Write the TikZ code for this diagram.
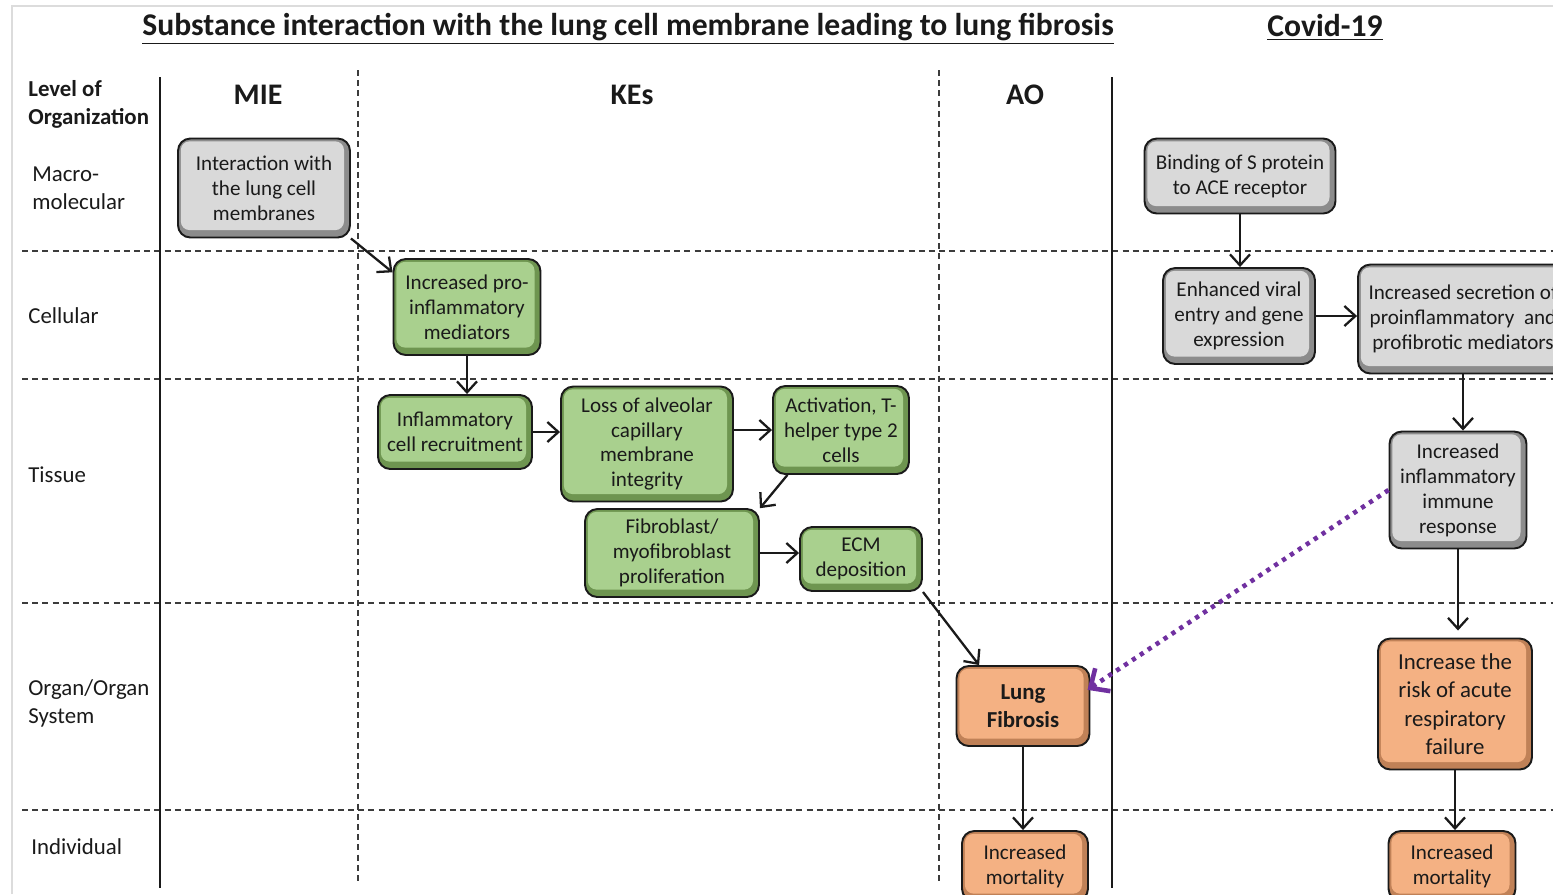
\documentclass[tikz,border=0pt]{standalone}
\usepackage{fontspec}
\setmainfont{Carlito}
\usetikzlibrary{arrows.meta,calc}
\definecolor{edgegray}{HTML}{8C8C8C}
\definecolor{fillgray}{HTML}{D9D9D9}
\definecolor{edgegreen}{HTML}{6E9550}
\definecolor{fillgreen}{HTML}{A9D08E}
\definecolor{edgeorange}{HTML}{C08157}
\definecolor{fillorange}{HTML}{F4B183}
\definecolor{framegray}{HTML}{DCDCDC}
\definecolor{linkpurple}{HTML}{7030A0}
\definecolor{ink}{HTML}{1A1A1A}
\tikzset{
  kebox/.style 2 args={rounded corners=7pt,draw=ink,line width=1.1pt,fill=#1,
    align=center,inner sep=2pt,text=ink,font=\fontsize{12}{14.2}\selectfont,
    path picture={\fill[#2,rounded corners=5pt]
      ([shift={(1.6pt,-1.6pt)}]path picture bounding box.north west) rectangle
      ([shift={(-3.4pt,4.2pt)}]path picture bounding box.south east);}},
  graybox/.style  ={kebox={edgegray}{fillgray}},
  greenbox/.style ={kebox={edgegreen}{fillgreen}},
  orangebox/.style={kebox={edgeorange}{fillorange}},
  level/.style ={anchor=west,align=left,inner sep=0pt,text=ink,font=\fontsize{13}{15.9}\selectfont},
  head/.style  ={text=ink,font=\fontsize{17}{20}\selectfont\bfseries},
  title/.style ={text=ink,font=\fontsize{18}{21}\selectfont\bfseries},
  rowline/.style={dash pattern=on 3.4pt off 2.4pt,line width=0.8pt,draw=ink!85},
  colline/.style={line width=1.4pt,draw=ink},
  flow/.style  ={-{Straight Barb[length=2.2mm,width=4mm]},line width=1.3pt,draw=ink},
  link/.style  ={-{Straight Barb[length=3mm,width=5.5mm]},line width=2.6pt,
                 draw=linkpurple,dash pattern=on 2.4pt off 3pt}
}

\begin{document}
\begin{tikzpicture}[x=0.02cm,y=-0.02cm]
  \useasboundingbox[fill=white] (0,0) rectangle (1553,894);
  \draw[framegray,line width=1.2pt] (12,894) -- (12,6) -- (1553,6);

  % titles and column heads
  \node[title] (ttl) at (628,29) {\underline{Substance interaction with the lung cell membrane leading to lung fibrosis}};
  \node[title] (cov) at (1325,27) {\underline{Covid-19}};
  \node[level,font=\fontsize{13}{15.9}\selectfont\bfseries] (lvl) at (28,104) {Level of\\Organization};
  \node[head] (hmie) at (258,95) {MIE};
  \node[head] (hkes) at (632,95) {KEs};
  \node[head] (hao)  at (1025,95) {AO};

  % grid
  \foreach \yy in {251,379,603,810}
    \draw[rowline] (22,\yy) -- (1553,\yy);
  \foreach \xx in {358,939}
    \draw[rowline] (\xx,70) -- (\xx,885);
  \foreach \xx in {160,1112}
    \draw[colline] (\xx,77) -- (\xx,888);

  % levels
  \node[level] (lmac) at (32,188) {Macro-\\molecular};
  \node[level] (lcel) at (28,316) {Cellular};
  \node[level] (ltis) at (28,475) {Tissue};
  \node[level] (lorg) at (28,703) {Organ/Organ\\System};
  \node[level] (lind) at (31,847) {Individual};

  % substance pathway
  \node[graybox,minimum width=3.44cm,minimum height=1.98cm] (mie) at (264,188) {Interaction with\\the lung cell\\membranes};
  \node[greenbox,minimum width=2.94cm,minimum height=1.92cm] (pro) at (467,307) {Increased pro-\\inflammatory\\mediators};
  \node[greenbox,minimum width=3.08cm,minimum height=1.48cm] (rec) at (455,432) {Inflammatory\\cell recruitment};
  \node[greenbox,minimum width=3.44cm,minimum height=2.30cm] (loss) at (647,444) {Loss of alveolar\\capillary\\membrane\\integrity};
  \node[greenbox,minimum width=2.72cm,minimum height=1.76cm] (act) at (841,430) {Activation, T-\\helper type 2\\cells};
  \node[greenbox,minimum width=3.48cm,minimum height=1.76cm] (fib) at (672,553) {Fibroblast/\\myofibroblast\\proliferation};
  \node[greenbox,minimum width=2.44cm,minimum height=1.28cm] (ecm) at (861,559) {ECM\\deposition};
  \node[orangebox,minimum width=2.66cm,minimum height=1.60cm,font=\fontsize{13}{15.9}\selectfont\bfseries] (lf) at (1023,706) {Lung\\Fibrosis};
  \node[orangebox,minimum width=2.52cm,minimum height=1.40cm] (mor) at (1025,866) {Increased\\mortality};

  % covid-19 pathway
  \node[graybox,minimum width=3.82cm,minimum height=1.50cm] (bind) at (1240,176) {Binding of S protein\\to ACE receptor};
  \node[graybox,minimum width=3.04cm,minimum height=1.92cm] (enh) at (1239,316) {Enhanced viral\\entry and gene\\expression};
  \node[graybox,minimum width=4.20cm,minimum height=2.18cm] (sec) at (1463,319) {Increased secretion of\\proinflammatory\ \ and\\profibrotic mediators};
  \node[graybox,minimum width=2.74cm,minimum height=2.34cm] (imm) at (1458,490) {Increased\\inflammatory\\immune\\response};
  \node[orangebox,minimum width=3.08cm,minimum height=2.62cm,font=\fontsize{13}{16.2}\selectfont] (ars) at (1455,704) {Increase the\\risk of acute\\respiratory\\failure};
  \node[orangebox,minimum width=2.54cm,minimum height=1.40cm] (mor2) at (1452,866) {Increased\\mortality};

  % connectors
  \draw[flow] (mie.south east) -- (pro.155);
  \draw[flow] (pro.south) -- (pro.south |- rec.north);
  \draw[flow] (rec.east) -- (rec.east -| loss.west);
  \draw[flow] (act.west -| loss.east) -- (act.west);
  \draw[flow] (act.220) -- (fib.27);
  \draw[flow] (fib.east) -- (fib.east -| ecm.west);
  \draw[flow] (ecm.south east) -- (lf.137);
  \draw[flow] (lf.south) -- (lf.south |- mor.north);
  \draw[flow] (bind.south) -- (bind.south |- enh.north);
  \draw[flow] (enh.east) -- (enh.east -| sec.west);
  \draw[flow] (sec.south) -- (sec.south |- imm.north);
  \draw[flow,shorten >=4pt] (imm.south) -- (imm.south |- ars.north);
  \draw[flow] (ars.south) -- (ars.south |- mor2.north);
  \draw[link,shorten >=-2pt] (imm.west) -- (lf.15);
\end{tikzpicture}
\end{document}
